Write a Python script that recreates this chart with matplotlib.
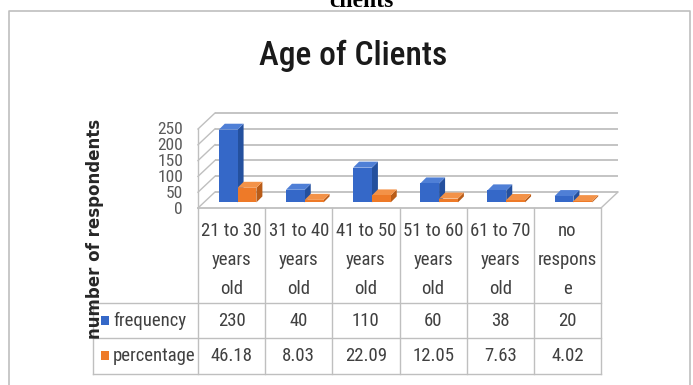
import os
import matplotlib
matplotlib.use("Agg")
import matplotlib.pyplot as plt
from matplotlib import font_manager
from matplotlib.font_manager import FontProperties
from matplotlib.patches import Polygon, Rectangle
from matplotlib.transforms import Affine2D

# ---------------- data ----------------
categories = ["21 to 30\nyears\nold", "31 to 40\nyears\nold", "41 to 50\nyears\nold",
              "51 to 60\nyears\nold", "61 to 70\nyears\nold", "no\nrespons\ne"]
series_names = ["frequency", "percentage"]
frequency = [230, 40, 110, 60, 38, 20]
percentage = [46.18, 8.03, 22.09, 12.05, 7.63, 4.02]
yticks = [0, 50, 100, 150, 200, 250]
title = "Age of Clients"
ylabel = "number of respondents"
caption_fragment = "clients"

# ---------------- fonts ----------------
def find_narrow():
    prefs = ["liberationsansnarrow-regular", "robotocondensed-regular", "opensans_condensed-regular",
             "opensanscondensed-regular", "opensans-condensedregular", "notosans-condensed.",
             "notosans-condensed-regular", "notosans-condensedregular", "dejavusanscondensed."]
    files = [f.fname for f in font_manager.fontManager.ttflist]
    low = {fn: fn.lower().replace(" ", "").split("/")[-1] for fn in files}
    for p in prefs:
        for fn, l in low.items():
            if l.startswith(p):
                return fn
    for fn, l in low.items():
        if ("condensed" in l or "narrow" in l) and "bold" not in l and "italic" not in l \
                and "oblique" not in l and "light" not in l and "semi" not in l:
            return fn
    return None

NARROW_FILE = find_narrow()
BOLD_FILE = None
if NARROW_FILE:
    for a, b in [("Regular", "Medium"), ("Regular", "SemiBold"), ("Regular", "Bold"),
                 ("regular", "bold"), ("Condensed.", "Condensed-Bold."),
                 ("Condensed.ttf", "Condensed-Bold.ttf")]:
        cand = NARROW_FILE.replace(a, b)
        if cand != NARROW_FILE and os.path.exists(cand):
            BOLD_FILE = cand
            break

def nfont(size, bold=False):
    if bold and BOLD_FILE:
        return FontProperties(fname=BOLD_FILE, size=size)
    if NARROW_FILE:
        return FontProperties(fname=NARROW_FILE, size=size)
    return FontProperties(family="Liberation Sans", size=size * 0.85,
                          weight="bold" if bold else "normal")

# ---------------- style ----------------
W, H = 693, 385
GRID = "#BFBFBF"
TXT = "#404040"
FRONT_COL = ["#3568C8", "#EE7A28"]
SIDE_COL = ["#24509E", "#B95C18"]
TOP_COL = ["#4F7FD6", "#F39248"]

fig = plt.figure(figsize=(W / 100, H / 100), dpi=100)
canvas = fig.add_axes([0, 0, 1, 1])
canvas.set_xlim(0, W)
canvas.set_ylim(H, 0)
canvas.axis("off")

# back wall plane axes (pixel box of the back wall)
bw_left, bw_right, bw_bottom, bw_top = 215, 618, 192, 113
ax = fig.add_axes([bw_left / W, (H - bw_bottom) / H, (bw_right - bw_left) / W,
                   (bw_bottom - bw_top) / H])
n = len(categories)
ax.set_xlim(-0.5, n - 0.5)
ax.set_ylim(yticks[0], yticks[-1])
ax.axis("off")

(x0d, y0d), (x1d, y1d) = ax.transData.transform([(0, 0), (1, 1)])
ppc = x1d - x0d          # pixels per category
ppv = y1d - y0d          # pixels per value unit

# 3D offsets in pixels (x right, y up in display)
FRONT = (-17, -16)
BAR = (-11, -10.4)
DEPTH = (6, 6)
fdx, fdy = FRONT[0] / ppc, FRONT[1] / ppv
ddx, ddy = DEPTH[0] / ppc, DEPTH[1] / ppv

def to_canvas(x, y, off=(0, 0)):
    px, py = ax.transData.transform((x, y))
    return px + off[0], H - (py + off[1])

lw = 1.3
ax.hlines(yticks, -0.5, n - 0.5, color=GRID, lw=lw, clip_on=False, zorder=1)
for v in yticks:
    ax.plot([-0.5, -0.5 + fdx], [v, v + fdy], color=GRID, lw=1.0, clip_on=False, zorder=1)
ax.plot([-0.5 + fdx, -0.5 + fdx], [yticks[0] + fdy, yticks[-1] + fdy], color=GRID, lw=1.0,
        clip_on=False, zorder=1)
ax.plot([-0.5 + fdx, n - 0.5 + fdx], [fdy, fdy], color=GRID, lw=lw, clip_on=False, zorder=1)
ax.plot([n - 0.5, n - 0.5 + fdx], [0, fdy], color=GRID, lw=1.0, clip_on=False, zorder=1)

# bars
tbar = ax.transData + Affine2D().translate(*BAR)
bw = 0.28
for si, vals in enumerate([frequency, percentage]):
    xs = [i + (si - 0.5) * bw for i in range(n)]
    ax.bar(xs, vals, width=bw, color=FRONT_COL[si], transform=tbar, clip_on=False,
           zorder=5 + si, linewidth=0)
    for x, h in zip(xs, vals):
        xl, xr = x - bw / 2, x + bw / 2
        ax.add_patch(Polygon([(xr, 0), (xr, h), (xr + ddx, h + ddy), (xr + ddx, ddy)],
                             closed=True, facecolor=SIDE_COL[si], lw=0, transform=tbar,
                             clip_on=False, zorder=3 + si))
        ax.add_patch(Polygon([(xl, h), (xr, h), (xr + ddx, h + ddy), (xl + ddx, h + ddy)],
                             closed=True, facecolor=TOP_COL[si], lw=0, transform=tbar,
                             clip_on=False, zorder=3 + si))

# y tick labels
for v in yticks:
    cx, cy = to_canvas(-0.5, v, FRONT)
    canvas.text(cx - 15, cy + 1, str(v), ha="right", va="center",
                fontproperties=nfont(12.5), color="#595959")

# ---------------- table ----------------
fl, fy = to_canvas(-0.5, 0, FRONT)
fr, _ = to_canvas(n - 0.5, 0, FRONT)
row_y = [fy, 303, 338, 374]
left_x = 93
tl = dict(color=GRID, lw=1.0)
canvas.plot([fl, fl], [fy, row_y[-1]], **tl)
for i in range(n):
    xb, _ = to_canvas(i + 0.5, 0, FRONT)
    canvas.plot([xb, xb], [fy, row_y[-1]], **tl)
for y in row_y[1:]:
    canvas.plot([left_x, fr], [y, y], **tl)
canvas.plot([left_x, left_x], [row_y[1], row_y[-1]], **tl)

for i, cat in enumerate(categories):
    cx, _ = to_canvas(i, 0, FRONT)
    for j, line in enumerate(cat.split("\n")):
        canvas.text(cx, 231 + 29 * j, line, ha="center", va="center",
                    fontproperties=nfont(13.5), color=TXT)
    canvas.text(cx, (row_y[1] + row_y[2]) / 2, f"{frequency[i]:g}", ha="center",
                va="center", fontproperties=nfont(13.5), color=TXT)
    canvas.text(cx, (row_y[2] + row_y[3]) / 2, f"{percentage[i]:.2f}", ha="center",
                va="center", fontproperties=nfont(13.5), color=TXT)

for si, name in enumerate(series_names):
    yc = (row_y[1 + si] + row_y[2 + si]) / 2
    canvas.add_patch(Rectangle((101, yc - 5), 8, 9, facecolor=FRONT_COL[si], lw=0))
    canvas.text(113, yc, name, ha="left", va="center", fontproperties=nfont(13.5), color=TXT)

# ---------------- titles ----------------
canvas.text(353, 56, title, ha="center", va="center", fontproperties=nfont(24, bold=True),
            color="#1A1A1A")
canvas.text(95, 229, ylabel, ha="center", va="center", rotation=90, family="DejaVu Sans",
            weight="bold", fontsize=12, color="#262626")
canvas.text(361, 7, caption_fragment, ha="center", va="baseline", family="Liberation Serif",
            weight="bold", fontsize=17, color="black")

# chart border
canvas.plot([9, 9, 690, 690], [H + 5, 11, 11, H + 5], color="#BFBFBF", lw=1.2)

fig.savefig("out.png", dpi=100)
